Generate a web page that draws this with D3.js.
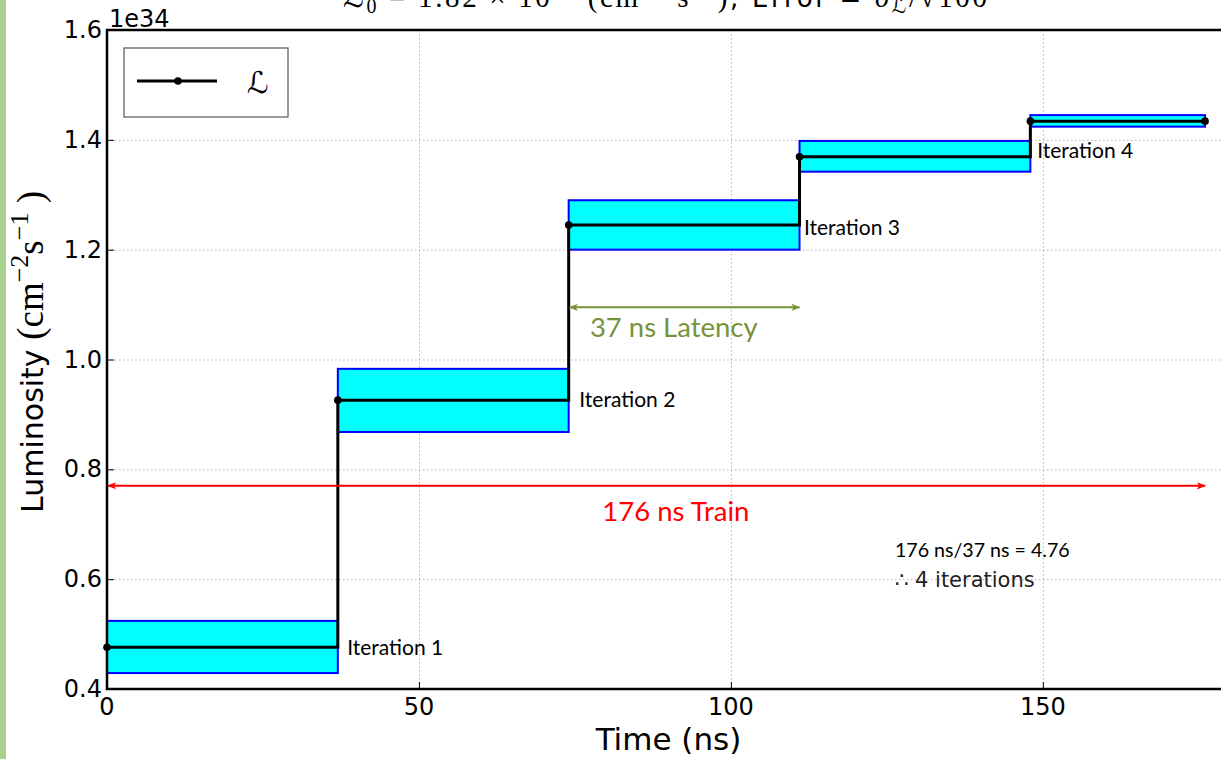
<!DOCTYPE html>
<html>
<head>
<meta charset="utf-8">
<script src="https://cdn.jsdelivr.net/npm/d3@7"></script>
<style>
  body { margin: 0; background: #fff; overflow: hidden; }
  svg { display: block; }
</style>
</head>
<body>
<div class="chart"></div>
<script>
// step data (time in ns, luminosity in units of 1e34)
const stepTimes = [0, 37, 74, 111, 148, 176];
const lumValues = [0.476, 0.926, 1.245, 1.369, 1.434];
const errLow = [0.429, 0.868, 1.200, 1.342, 1.424];
const errHigh = [0.524, 0.983, 1.290, 1.398, 1.445];
const xTicks = [0, 50, 100, 150];
const yTicks = [0.4, 0.6, 0.8, 1.0, 1.2, 1.4, 1.6];
const iterLabels = [
  { t: 38.5, v: 0.462, text: "Iteration 1" },
  { t: 75.7, v: 0.913, text: "Iteration 2" },
  { t: 111.7, v: 1.227, text: "Iteration 3" },
  { t: 149.1, v: 1.367, text: "Iteration 4" }
];
const trainArrow = { t0: 0, t1: 176, v: 0.77 };
const latencyArrow = { t0: 74, t1: 111, v: 1.095 };

const width = 1221, height = 759;
const margin = { left: 107, top: 30, right: 1230, bottom: 689 };

const svg = d3.select('.chart').append('svg')
  .attr('width', width)
  .attr('height', height);

// green strip on the left edge
svg.append('rect').attr('x', 0).attr('y', 0).attr('width', 6).attr('height', height)
  .attr('fill', '#a9d18e');

const x = d3.scaleLinear().domain([0, 180]).range([margin.left, margin.right]);
const y = d3.scaleLinear().domain([0.4, 1.6]).range([margin.bottom, margin.top]);

// grid
const grid = svg.append('g')
  .attr('stroke', '#b0b0b0')
  .attr('stroke-width', 1)
  .attr('stroke-dasharray', '1.5,2.5');
grid.selectAll('.gx').data(xTicks.slice(1)).enter().append('line')
  .attr('x1', d => x(d) + 0.5).attr('x2', d => x(d) + 0.5)
  .attr('y1', margin.top).attr('y2', margin.bottom);
grid.selectAll('.gy').data(yTicks.slice(1, -1)).enter().append('line')
  .attr('x1', margin.left).attr('x2', margin.right)
  .attr('y1', d => y(d) + 0.5).attr('y2', d => y(d) + 0.5);

// error bands
const segs = lumValues.map((v, i) => ({ t0: stepTimes[i], t1: stepTimes[i + 1], lo: errLow[i], hi: errHigh[i] }));
svg.append('g').selectAll('rect').data(segs).enter().append('rect')
  .attr('x', d => x(d.t0))
  .attr('y', d => y(d.hi))
  .attr('width', d => x(d.t1) - x(d.t0))
  .attr('height', d => y(d.lo) - y(d.hi))
  .attr('fill', '#00ffff')
  .attr('stroke', '#0000ff')
  .attr('stroke-width', 2);

// step line
const points = stepTimes.map((t, i) => [t, lumValues[Math.min(i, lumValues.length - 1)]]);
const line = d3.line().x(d => x(d[0])).y(d => y(d[1])).curve(d3.curveStepAfter);
svg.append('path').datum(points)
  .attr('d', line)
  .attr('fill', 'none')
  .attr('stroke', '#000')
  .attr('stroke-width', 3);
svg.append('g').selectAll('circle').data(points).enter().append('circle')
  .attr('cx', d => x(d[0])).attr('cy', d => y(d[1]))
  .attr('r', 3.8).attr('fill', '#000');

// iteration labels
const calibri = 'Lato, "Open Sans", sans-serif';
svg.append('g').selectAll('text').data(iterLabels).enter().append('text')
  .attr('x', d => x(d.t)).attr('y', d => y(d.v))
  .attr('font-family', calibri)
  .attr('font-size', '21px')
  .attr('fill', '#000')
  .text(d => d.text);

// arrows
const defs = svg.append('defs');
function marker(id, color) {
  defs.append('marker').attr('id', id)
    .attr('viewBox', '0 0 10 10').attr('refX', 9).attr('refY', 5)
    .attr('markerWidth', 4.5).attr('markerHeight', 4.5)
    .attr('orient', 'auto-start-reverse')
    .append('path').attr('d', 'M0,1 L10,5 L0,9 L2.5,5 Z').attr('fill', color);
}
marker('arr-red', '#ff0000');
marker('arr-green', '#77933c');

svg.append('line')
  .attr('x1', x(trainArrow.t0) + 1).attr('x2', x(trainArrow.t1))
  .attr('y1', y(trainArrow.v)).attr('y2', y(trainArrow.v))
  .attr('stroke', '#ff0000').attr('stroke-width', 2)
  .attr('marker-start', 'url(#arr-red)').attr('marker-end', 'url(#arr-red)');
svg.append('line')
  .attr('x1', x(latencyArrow.t0) + 1).attr('x2', x(latencyArrow.t1))
  .attr('y1', y(latencyArrow.v)).attr('y2', y(latencyArrow.v))
  .attr('stroke', '#77933c').attr('stroke-width', 2)
  .attr('marker-start', 'url(#arr-green)').attr('marker-end', 'url(#arr-green)');

svg.append('text')
  .attr('x', x(79.4)).attr('y', y(0.706))
  .attr('font-family', calibri).attr('font-size', '27.5px')
  .attr('fill', '#ff0000').text('176 ns Train');
svg.append('text')
  .attr('x', x(77.4)).attr('y', y(1.041))
  .attr('font-family', calibri).attr('font-size', '27.5px')
  .attr('fill', '#77933c').text('37 ns Latency');
svg.append('text')
  .attr('x', x(126.3)).attr('y', y(0.640))
  .attr('font-family', calibri).attr('font-size', '19.6px')
  .attr('fill', '#000').text('176 ns/37 ns = 4.76');
svg.append('text')
  .attr('x', x(126.3)).attr('y', y(0.586))
  .attr('font-family', '"DejaVu Sans", sans-serif').attr('font-size', '21px')
  .attr('fill', '#222').text('\u2234 4 iterations');

// frame
svg.append('rect')
  .attr('x', margin.left).attr('y', margin.top)
  .attr('width', margin.right - margin.left).attr('height', margin.bottom - margin.top)
  .attr('fill', 'none').attr('stroke', '#000').attr('stroke-width', 2.5);

// ticks (inside, matplotlib classic)
const ticks = svg.append('g').attr('stroke', '#000').attr('stroke-width', 1);
ticks.selectAll('.tx').data(xTicks).enter().append('line')
  .attr('x1', d => x(d) + 0.5).attr('x2', d => x(d) + 0.5)
  .attr('y1', margin.bottom).attr('y2', margin.bottom - 7);
ticks.selectAll('.ty').data(yTicks).enter().append('line')
  .attr('x1', margin.left).attr('x2', margin.left + 7)
  .attr('y1', d => y(d) + 0.5).attr('y2', d => y(d) + 0.5);

// tick labels
const fmt = d3.format('.1f');
svg.append('g').selectAll('text').data(xTicks).enter().append('text')
  .attr('x', d => x(d)).attr('y', 715)
  .attr('text-anchor', 'middle')
  .attr('font-family', '"DejaVu Sans", sans-serif').attr('font-size', '24px')
  .text(d => d);
svg.append('g').selectAll('text').data(yTicks).enter().append('text')
  .attr('x', margin.left - 5).attr('y', d => y(d) + 8)
  .attr('text-anchor', 'end')
  .attr('font-family', '"DejaVu Sans", sans-serif').attr('font-size', '24px')
  .text(d => fmt(d));
svg.append('text')
  .attr('x', margin.left + 2).attr('y', 27)
  .attr('font-family', '"DejaVu Sans", sans-serif').attr('font-size', '24px')
  .text('1e34');

// axis labels
svg.append('text')
  .attr('x', (margin.left + margin.right) / 2).attr('y', 750)
  .attr('text-anchor', 'middle')
  .attr('font-family', '"DejaVu Sans", sans-serif').attr('font-size', '31px')
  .text('Time (ns)');

const serif = '"Liberation Serif", serif';
const ylab = svg.append('text')
  .attr('transform', 'translate(43,352) rotate(-90)')
  .attr('text-anchor', 'middle')
  .attr('font-family', '"DejaVu Sans", sans-serif').attr('font-size', '30px');
ylab.append('tspan').text('Luminosity ');
ylab.append('tspan').attr('font-family', serif).attr('font-size', '37px').text('(cm');
ylab.append('tspan').attr('font-family', serif).attr('font-size', '26px').attr('dy', -15).text('\u22122');
ylab.append('tspan').attr('font-family', serif).attr('font-size', '37px').attr('dy', 15).text('s');
ylab.append('tspan').attr('font-family', serif).attr('font-size', '26px').attr('dy', -15).text('\u22121');
ylab.append('tspan').attr('font-family', serif).attr('font-size', '37px').attr('dy', 15).text(' )');

// title (cut off at the top, as in the source figure)
const title = svg.append('text')
  .attr('x', 343).attr('y', 7)
  .attr('textLength', 644).attr('lengthAdjust', 'spacing')
  .attr('font-family', serif).attr('font-size', '29px');
title.append('tspan').attr('font-family', '"DejaVu Sans", sans-serif').text('\u2112');
title.append('tspan').attr('font-size', '20px').attr('dy', 6).text('0');
title.append('tspan').attr('dy', -6).text(' = 1.82 \u00d7 10');
title.append('tspan').attr('font-size', '20px').attr('dy', -12).text('34');
title.append('tspan').attr('dy', 12).text('  (cm');
title.append('tspan').attr('font-size', '20px').attr('dy', -12).text('\u22122');
title.append('tspan').attr('dy', 12).text(' s');
title.append('tspan').attr('font-size', '20px').attr('dy', -12).text('\u22121');
title.append('tspan').attr('dy', 12).text(')');
title.append('tspan').attr('font-family', '"DejaVu Sans", sans-serif').attr('font-size', '26px').text(', Error = ');
title.append('tspan').attr('font-style', 'italic').text('\u03c3');
title.append('tspan').attr('font-size', '20px').attr('font-family', '"DejaVu Sans", sans-serif').attr('dy', 6).text('\u2112');
title.append('tspan').attr('dy', -6).text('/\u221a');
title.append('tspan').attr('text-decoration', 'overline').text('100');

// legend
const legend = svg.append('g');
legend.append('rect')
  .attr('x', 124).attr('y', 48).attr('width', 164).attr('height', 69)
  .attr('fill', '#fff').attr('stroke', '#555').attr('stroke-width', 1.2);
legend.append('line')
  .attr('x1', 137).attr('x2', 217).attr('y1', 81).attr('y2', 81)
  .attr('stroke', '#000').attr('stroke-width', 3);
legend.append('circle').attr('cx', 178).attr('cy', 81).attr('r', 3.8).attr('fill', '#000');
legend.append('text')
  .attr('x', 247).attr('y', 93)
  .attr('font-family', '"DejaVu Sans", sans-serif').attr('font-size', '30px')
  .text('\u2112');
</script>
</body>
</html>
